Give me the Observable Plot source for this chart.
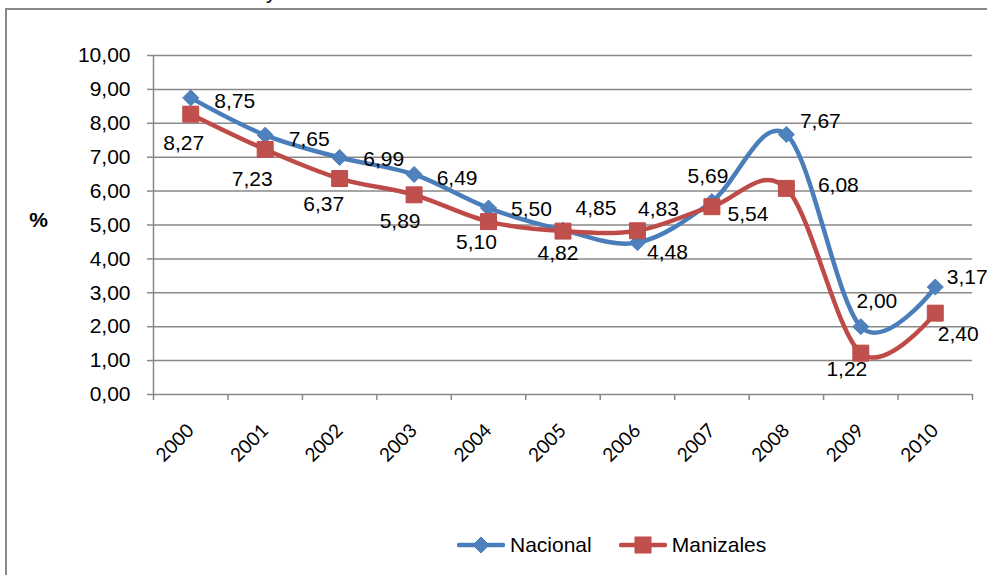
<!DOCTYPE html>
<html>
<head>
<meta charset="utf-8">
<script src="https://cdn.jsdelivr.net/npm/d3@7"></script>
<script src="https://cdn.jsdelivr.net/npm/@observablehq/plot@0.6"></script>
<style>
  html, body { margin: 0; padding: 0; background: #fff; }
  #wrap { position: relative; width: 987px; height: 575px; overflow: hidden; font-family: "Liberation Sans", Arial, sans-serif; }
  #frame { position: absolute; left: 5px; top: 8px; width: 1100px; height: 700px; border: 2px solid #898989; box-sizing: border-box; }
  #titlefrag { position: absolute; left: 266px; top: -19px; font-size: 21px; line-height: 21px; color: #000; }
  #chart { position: absolute; left: 0; top: 0; }
  #legend { position: absolute; left: 457px; top: 531px; display: flex; align-items: center; font-size: 21px; color: #000; }
  #legend .item { display: flex; align-items: center; }
  #legend svg { display: block; }
</style>
</head>
<body>
<div id="wrap">
  <div id="frame"></div>
  <div id="titlefrag">y</div>
  <div id="chart"></div>
  <div id="legend"></div>
</div>
<script>
// ---- data ----
const years = [2000, 2001, 2002, 2003, 2004, 2005, 2006, 2007, 2008, 2009, 2010];
const nacional = [8.75, 7.65, 6.99, 6.49, 5.50, 4.85, 4.48, 5.69, 7.67, 2.00, 3.17];
const manizales = [8.27, 7.23, 6.37, 5.89, 5.10, 4.82, 4.83, 5.54, 6.08, 1.22, 2.40];
const yTicks = [0, 1, 2, 3, 4, 5, 6, 7, 8, 9, 10];
const seriesNames = ["Nacional", "Manizales"];
const yAxisLabel = "%";
// data-label placement (pixel nudges of each value label from its point, as placed in the original)
const nacionalLabelNudge = [[44,3],[44,4],[44,2],[43,3.5],[43,1.5],[33,-22],[30,10],[-4,-25],[34,-13],[16,-25],[32,-10]];
const manizalesLabelNudge = [[-7,29],[-13,30],[-16,26],[-14,26.5],[-12,21],[-5,22.5],[21,-21],[36,8],[52,-3],[-14,16.5],[23,21.5]];

const colors = {Nacional: {line: "#4A7EBB", marker: "#4F81BD"}, Manizales: {line: "#BE4B48", marker: "#C0504D"}};
const gridColor = "#898989";

const fmt = d => d3.format(".2f")(d).replace(".", ",");
const nacData = years.map((year, i) => ({year, value: nacional[i], nudge: nacionalLabelNudge[i]}));
const manData = years.map((year, i) => ({year, value: manizales[i], nudge: manizalesLabelNudge[i]}));
const boundaries = [years[0] - 0.5, ...years.map(y => y + 0.5)];

const diamond = {
  draw(ctx, size) {
    const a = Math.sqrt(size / 2);
    ctx.moveTo(0, -a); ctx.lineTo(a, 0); ctx.lineTo(0, a); ctx.lineTo(-a, 0); ctx.closePath();
  }
};

const labelMarks = data => data.map(d => Plot.text([d], {
  x: "year", y: "value", text: dd => fmt(dd.value),
  dx: d.nudge[0], dy: d.nudge[1], textAnchor: "middle", lineAnchor: "middle",
  fontSize: 21, fill: "#000"
}));

const chart = Plot.plot({
  width: 987,
  height: 480,
  marginLeft: 153,
  marginRight: 15,
  marginTop: 55,
  marginBottom: 86,
  style: {fontFamily: "'Liberation Sans', Arial, sans-serif", background: "transparent", overflow: "visible"},
  x: {domain: [boundaries[0], boundaries[boundaries.length - 1]]},
  y: {domain: [0, 10]},
  marks: [
    Plot.ruleY(yTicks.filter(t => t > 0), {stroke: gridColor, strokeWidth: 1.5}),
    Plot.ruleY([0], {stroke: gridColor, strokeWidth: 1.5}),
    Plot.ruleX([boundaries[0]], {stroke: gridColor, strokeWidth: 1.5}),
    Plot.axisY({ticks: yTicks, tickSize: 6, tickPadding: 17, tickFormat: fmt, fontSize: 21, stroke: gridColor, fill: "#000", label: null, strokeWidth: 1.5}),
    Plot.axisX({ticks: boundaries, tickSize: 6, tickFormat: () => "", stroke: gridColor, label: null, strokeWidth: 1.5}),
    Plot.text(years, {x: d => d, y: d => 0, text: d => String(d), rotate: -45, textAnchor: "end", lineAnchor: "middle",
      dx: 0, dy: 33, fontSize: 19, fontFamily: "Lato, 'Open Sans', sans-serif", fill: "#000"}),
    Plot.text([yAxisLabel], {frameAnchor: "left", dx: -115, dy: -5, textAnchor: "middle", fontSize: 21, fontWeight: "bold", fill: "#000"}),
    Plot.line(nacData, {x: "year", y: "value", stroke: colors.Nacional.line, strokeWidth: 4.5, curve: "cardinal"}),
    Plot.dot(nacData, {x: "year", y: "value", symbol: diamond, r: 6.4, fill: colors.Nacional.marker, stroke: colors.Nacional.line, strokeWidth: 1}),
    Plot.line(manData, {x: "year", y: "value", stroke: colors.Manizales.line, strokeWidth: 4.5, curve: "cardinal"}),
    Plot.dot(manData, {x: "year", y: "value", symbol: "square", r: 9, fill: colors.Manizales.marker, stroke: colors.Manizales.line, strokeWidth: 1}),
    ...labelMarks(nacData),
    ...labelMarks(manData)
  ]
});
document.getElementById("chart").appendChild(chart);

// legend
const legend = document.getElementById("legend");
seriesNames.forEach((name, i) => {
  const item = document.createElement("div");
  item.className = "item";
  if (i > 0) item.style.marginLeft = "27px";
  const c = colors[name];
  const marker = name === "Nacional"
    ? `<path d="M24,6 L32,14 L24,22 L16,14 Z" fill="${c.marker}" stroke="${c.line}" stroke-width="1"/>`
    : `<rect x="16" y="6" width="16" height="16" fill="${c.marker}" stroke="${c.line}" stroke-width="1"/>`;
  item.innerHTML = `<svg width="48" height="28" viewBox="0 0 48 28"><line x1="2" y1="14" x2="46" y2="14" stroke="${c.line}" stroke-width="4.5" stroke-linecap="round"/>${marker}</svg><span style="margin-left:5px">${name}</span>`;
  legend.appendChild(item);
});
</script>
</body>
</html>
